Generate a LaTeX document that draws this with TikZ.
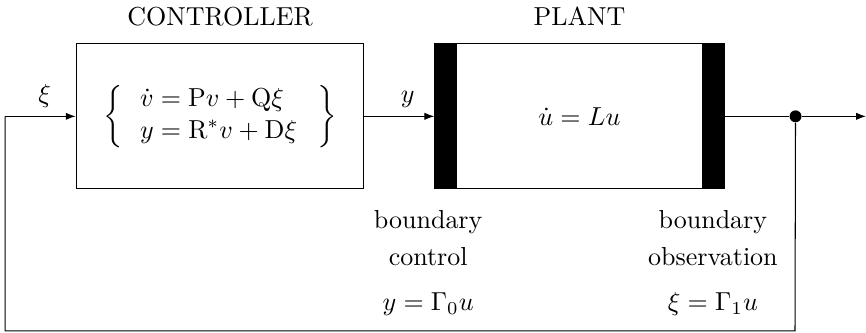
\documentclass[tikz,border=0pt]{standalone}
\usepackage{amsmath,amssymb}
\usepackage{tikz}
\usetikzlibrary{arrows.meta, positioning, calc}

\begin{document}
\begin{tikzpicture}[
        block/.style={rectangle, draw=black, line width=0.4pt, minimum width=3.89cm, minimum height=1.96cm, inner sep=0pt},
        title/.style={anchor=base, inner sep=0pt},
        remark/.style={anchor=base, inner sep=0pt},
        bar/.style={fill=black},
        line/.style={draw=black, -{Latex[length=3.8pt,width=2.8pt]}, line width=0.4pt},
        junction/.style={circle, fill=black, inner sep=0pt, minimum size=4.6pt}
    ]
    \useasboundingbox (0,0) rectangle (11.71,4.50);
    % Nodes
    \node (ctrl) [block] at (2.975,2.927) {$\left\{\,\begin{array}{l} \dot{v} = \mathrm{P}v + \mathrm{Q}\xi \\ y = \mathrm{R}^{*}v + \mathrm{D}\xi \end{array}\;\right\}$};
    \node (plant) [block, minimum width=3.91cm] at (7.835,2.927) {$\dot{u} = Lu$};
    \node (ctrltitle) [title] at (2.975,4.151) {CONTROLLER};
    \node (planttitle) [title] at (7.835,4.151) {PLANT};
    \fill [bar] (plant.north west) rectangle ($(plant.south west)+(0.30,0)$);
    \fill [bar] (plant.north east) rectangle ($(plant.south east)+(-0.30,0)$);
    \node (split) [junction] at ($(plant.east)+(0.96,0)$) {};
    \coordinate (out) at (11.71,2.927);
    \coordinate (fbr) at (10.75,0.027);
    \coordinate (fbl) at (0.068,0.027);
    \coordinate (fbt) at (0.068,2.927);

    % Boundary labels
    \node (bc1) [remark] at (5.79,1.406) {boundary};
    \node (bc2) [remark] at (5.79,0.906) {control};
    \node (bc3) [remark] at (5.79,0.297) {$y = \Gamma_0 u$};
    \node (bo1) [remark] at (9.64,1.406) {boundary};
    \node (bo2) [remark] at (9.64,0.906) {observation};
    \node (bo3) [remark] at (9.64,0.297) {$\xi = \Gamma_1 u$};

    % Connectors
    \path [line] (fbt) -- node[above, pos=0.56] {$\xi$} (ctrl);
    \path [line] (ctrl) -- node[above, pos=0.62] {$y$} (plant);
    \draw [line width=0.4pt] (plant) -- (split);
    \path [line] (split) -- (out);
    \draw [line width=0.4pt] (split) -- (fbr) -- (fbl) -- (fbt);
\end{tikzpicture}
\end{document}
